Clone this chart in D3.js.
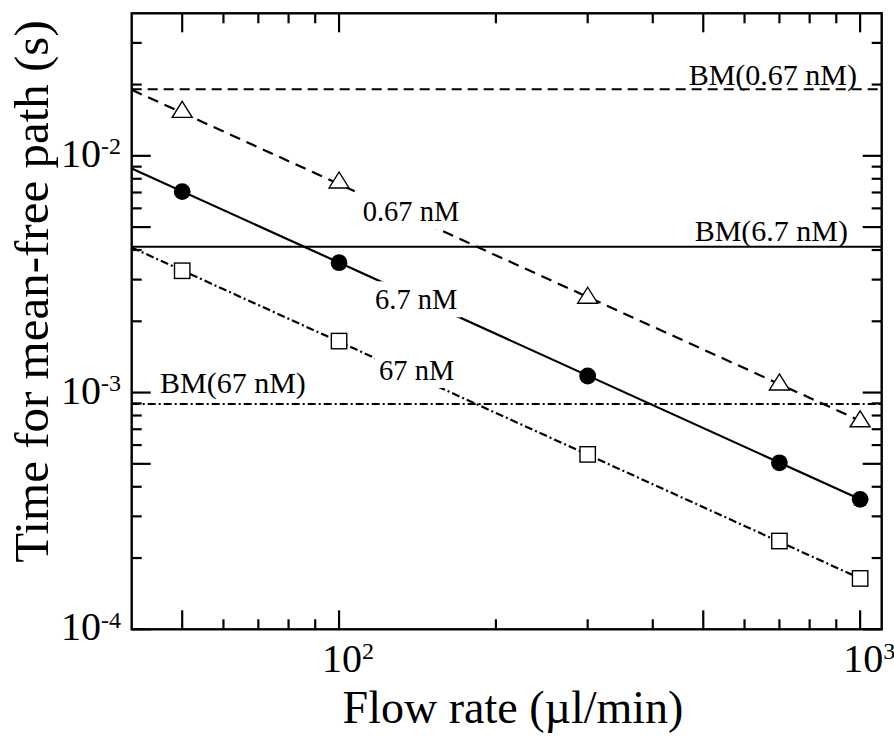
<!DOCTYPE html>
<html><head><meta charset="utf-8">
<script src="https://cdn.jsdelivr.net/npm/d3@7"></script>
<style>
body{margin:0;background:#fff}
svg{display:block}
text{font-family:"Liberation Serif","Times New Roman",serif;fill:#000}
</style>
</head><body>
<svg id="chart" width="894" height="736"></svg>
<script>
// ---- data ----
const flowRates = [50, 100, 300, 700, 1000];           // µl/min
const time067 = [0.0153, 0.0077, 0.00251, 0.00108, 0.000755];  // 0.67 nM (triangles)
const time6_7 = [0.00706, 0.003536, 0.001175, 0.000505, 0.000354]; // 6.7 nM (circles)
const time67  = [0.00327, 0.00165, 0.000548, 0.000236, 0.000164];  // 67 nM (squares)
const seriesNames = ["0.67 nM", "6.7 nM", "67 nM"];

const fitX = [40, 1000];
const fit067 = [0.019, 0.00076];
const fit6_7 = [0.00885, 0.000354];
const fit67  = [0.0041, 0.000164];

const bmValues = [0.0191, 0.00413, 0.000895];
const bmLabels = ["BM(0.67 nM)", "BM(6.7 nM)", "BM(67 nM)"];

const xDomain = [40, 1100];
const yDomain = [1e-4, 0.04];
const xTickValues = [100, 1000];
const xTickExps = ["2", "3"];
const yTickValues = [1e-4, 1e-3, 1e-2];
const yTickExps = ["-4", "-3", "-2"];
const xTitle = "Flow rate (µl/min)";
const yTitle = "Time for mean-free path (s)";

// ---- layout ----
const L = 131.7, R = 881.7, T = 13.3, B = 629.3;
const svg = d3.select("#chart");
const x = d3.scaleLog().domain(xDomain).range([L, R]);
const y = d3.scaleLog().domain(yDomain).range([B, T]);

// BM horizontal lines
const bmStyles = [
  {dash: "10,6", w: 2},
  {dash: null, w: 2},
  {dash: "8,3,2,3", w: 2}
];
bmValues.forEach((v, i) => {
  svg.append("line")
    .attr("x1", x(xDomain[0])).attr("x2", x(xDomain[1]))
    .attr("y1", y(v)).attr("y2", y(v))
    .attr("stroke", "#000").attr("stroke-width", bmStyles[i].w)
    .attr("stroke-dasharray", bmStyles[i].dash);
});

// fit lines
const fits = [fit067, fit6_7, fit67];
const fitStyles = ["11,7", null, "8,3,2,3"];
const line = d3.line().x(d => x(d[0])).y(d => y(d[1]));
fits.forEach((f, i) => {
  svg.append("path")
    .attr("d", line(fitX.map((xv, j) => [xv, f[j]])))
    .attr("fill", "none").attr("stroke", "#000").attr("stroke-width", 2.2)
    .attr("stroke-dasharray", fitStyles[i]);
});

// series labels with white background (they interrupt the lines)
const seriesLabelPos = [[362.7, 221], [375, 309.3], [379, 380]];
seriesNames.forEach((s, i) => {
  const g = svg.append("g");
  const rect = g.append("rect").attr("fill", "#fff");
  const t = g.append("text").attr("x", seriesLabelPos[i][0]).attr("y", seriesLabelPos[i][1])
    .attr("font-size", 28.5).text(s);
  const bb = t.node().getBBox();
  rect.attr("x", bb.x - 4).attr("y", bb.y - 3).attr("width", bb.width + 8).attr("height", bb.height + 5);
});

// markers
const pts = d => flowRates.map((f, i) => [f, d[i]]);
svg.append("g").selectAll("path").data(pts(time067)).join("path")
  .attr("d", "M0,-10.7L10,5.3L-10,5.3Z")
  .attr("transform", d => `translate(${x(d[0])},${y(d[1])})`)
  .attr("fill", "#fff").attr("stroke", "#000").attr("stroke-width", 1.4);
svg.append("g").selectAll("circle").data(pts(time6_7)).join("circle")
  .attr("cx", d => x(d[0])).attr("cy", d => y(d[1])).attr("r", 8.4).attr("fill", "#000");
svg.append("g").selectAll("rect").data(pts(time67)).join("rect")
  .attr("x", d => x(d[0]) - 7.7).attr("y", d => y(d[1]) - 7.7)
  .attr("width", 15.4).attr("height", 15.4)
  .attr("fill", "#fff").attr("stroke", "#000").attr("stroke-width", 1.4);

// BM labels
svg.append("text").attr("x", 857).attr("y", 85).attr("text-anchor", "end").attr("font-size", 30).text(bmLabels[0]);
svg.append("text").attr("x", 848).attr("y", 241).attr("text-anchor", "end").attr("font-size", 30).text(bmLabels[1]);
svg.append("text").attr("x", 160).attr("y", 392.5).attr("font-size", 30).text(bmLabels[2]);

// frame
svg.append("rect").attr("x", L).attr("y", T).attr("width", R - L).attr("height", B - T)
  .attr("fill", "none").attr("stroke", "#000").attr("stroke-width", 2.4);

// ticks (inward on all four sides)
const mant = v => Math.round(v / Math.pow(10, Math.floor(Math.log10(v) + 1e-9)));
const tickLen = v => (mant(v) === 1 || mant(v) === 5) ? 19 : 10;
const xt = x.ticks().filter(v => v > xDomain[0] * 1.001 && v < xDomain[1] * 0.999);
const yt = y.ticks().filter(v => v > yDomain[0] * 1.001 && v < yDomain[1] * 0.999);
const tg = svg.append("g").attr("stroke", "#000").attr("stroke-width", 2.2);
xt.forEach(v => {
  const len = tickLen(v);
  tg.append("line").attr("x1", x(v)).attr("x2", x(v)).attr("y1", B).attr("y2", B - len);
  tg.append("line").attr("x1", x(v)).attr("x2", x(v)).attr("y1", T).attr("y2", T + len);
});
yt.forEach(v => {
  const len = tickLen(v);
  tg.append("line").attr("y1", y(v)).attr("y2", y(v)).attr("x1", L).attr("x2", L + len);
  tg.append("line").attr("y1", y(v)).attr("y2", y(v)).attr("x1", R).attr("x2", R - len);
});
// 1e-4 major tick on the bottom corners
tg.append("line").attr("y1", y(1e-4)).attr("y2", y(1e-4)).attr("x1", L).attr("x2", L + 19);
tg.append("line").attr("y1", y(1e-4)).attr("y2", y(1e-4)).attr("x1", R).attr("x2", R - 19);

// tick labels
function powLabel(xStart, baseline, exp, anchorEnd) {
  const g = svg.append("g");
  const main = g.append("text").attr("y", baseline).attr("font-size", 40).text("10");
  const sup = g.append("text").attr("y", baseline - 12.5).attr("font-size", 24).text(exp);
  const wm = main.node().getComputedTextLength();
  const ws = sup.node().getComputedTextLength();
  const x0 = anchorEnd ? xStart - wm - ws : xStart;
  main.attr("x", x0);
  sup.attr("x", x0 + wm);
}
xTickValues.forEach((v, i) => powLabel(x(v) - 17, 671.5, xTickExps[i], false));
yTickValues.forEach((v, i) => powLabel(121, y(v) + 11, yTickExps[i], true));

// axis titles
svg.append("text").attr("x", 513).attr("y", 723).attr("text-anchor", "middle")
  .attr("font-size", 46).text(xTitle);
svg.append("text").attr("transform", "translate(48,291.5) rotate(-90)").attr("text-anchor", "middle")
  .attr("font-size", 49).text(yTitle);
</script>
</body></html>
